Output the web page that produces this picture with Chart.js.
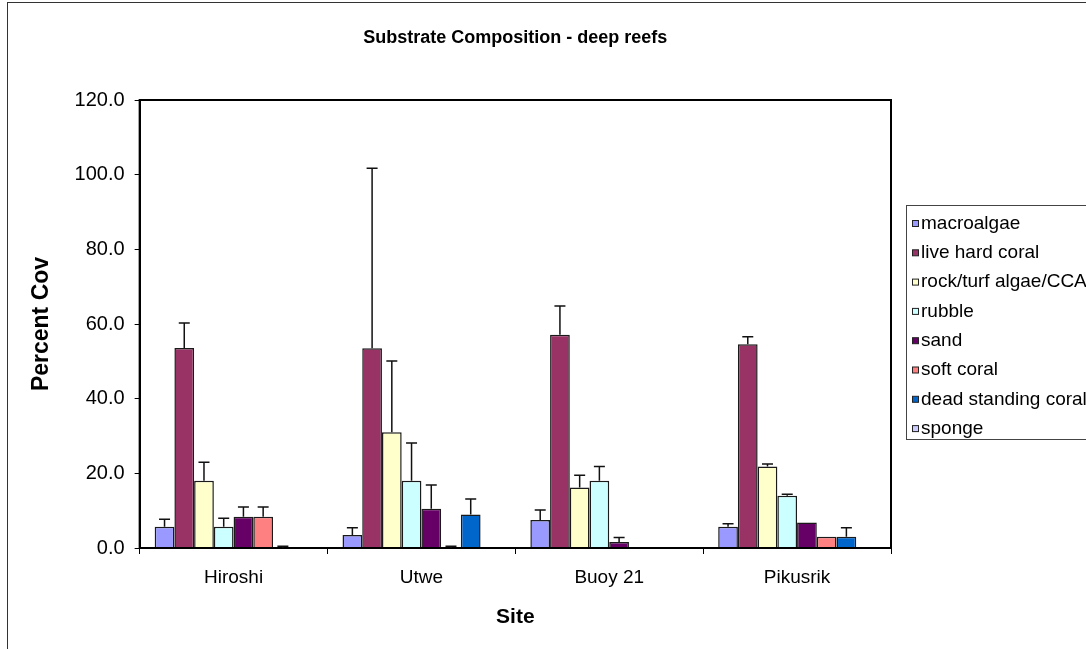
<!DOCTYPE html>
<html>
<head>
<meta charset="utf-8">
<title>Substrate Composition - deep reefs</title>
<script src="https://cdn.jsdelivr.net/npm/chart.js@4.4.1/dist/chart.umd.min.js"></script>
<style>
    html, body { margin: 0; padding: 0; background: #fff; }
    #wrap { position: relative; width: 1086px; height: 649px; }
</style>
</head>
<body>
<div id="wrap"><canvas id="substrateChart" width="1086" height="649"></canvas></div>
<script>
// ==============================================================================
// 1. DATA
// ==============================================================================
const sites = ["Hiroshi", "Utwe", "Buoy 21", "Pikusrik"];
const seriesNames = ["macroalgae", "live hard coral", "rock/turf algae/CCA", "rubble",
                     "sand", "soft coral", "dead standing coral", "sponge"];
const seriesColors = ["#9999FF", "#993366", "#FFFFCC", "#CCFFFF",
                      "#660066", "#FF8080", "#0066CC", "#CCCCFF"];

// mean percent cover per site
const macroalgae        = [5.7, 3.5, 7.5, 5.7];
const liveHardCoral     = [53.6, 53.5, 57.1, 54.6];
const rockTurfAlgae     = [18.0, 31.0, 16.2, 21.8];
const rubble            = [5.7, 18.0, 18.0, 14.0];
const sand              = [8.4, 10.5, 1.6, 6.8];
const softCoral         = [8.4, 0.0, 0.0, 3.0];
const deadStandingCoral = [0.0, 9.0, 0.0, 3.0];
const sponge            = [0.0, 0.0, 0.0, 0.0];

// upper error (same order)
const macroalgaeErr        = [2.0, 1.9, 2.7, 0.8];
const liveHardCoralErr     = [6.7, 48.2, 7.7, 2.0];
const rockTurfAlgaeErr     = [5.0, 19.1, 3.3, 0.7];
const rubbleErr            = [2.3, 10.1, 3.8, 0.4];
const sandErr              = [2.6, 6.4, 1.2, 0.0];
const softCoralErr         = [2.6, 0.5, 0.0, 0.0];
const deadStandingCoralErr = [0.5, 4.1, 0.0, 2.4];
const spongeErr            = [0.0, 0.0, 0.0, 0.0];

const yTicks = [0, 20, 40, 60, 80, 100, 120];

const seriesValues = [macroalgae, liveHardCoral, rockTurfAlgae, rubble,
                      sand, softCoral, deadStandingCoral, sponge];
const seriesErrors = [macroalgaeErr, liveHardCoralErr, rockTurfAlgaeErr, rubbleErr,
                      sandErr, softCoralErr, deadStandingCoralErr, spongeErr];

const FONT = '"Liberation Sans", Arial, sans-serif';

// ==============================================================================
// 2. PLUGINS (frame, error bars, boxed legend)
// ==============================================================================
const framePlugin = {
    id: 'frame',
    beforeDraw(chart) {
        const ctx = chart.ctx;
        ctx.save();
        ctx.fillStyle = '#fff';
        ctx.fillRect(0, 0, chart.width, chart.height);
        ctx.strokeStyle = '#333';
        ctx.lineWidth = 1;
        ctx.strokeRect(7.5, 2.5, 1300, 1000);   // outer chart border runs off the page
        ctx.restore();
    },
    afterDatasetsDraw(chart) {
        const a = chart.chartArea;
        const ctx = chart.ctx;
        ctx.save();
        ctx.strokeStyle = '#000';
        ctx.lineWidth = 2;
        ctx.strokeRect(a.left, a.top, a.right - a.left, a.bottom - a.top);
        ctx.restore();
    }
};

const errorBarsPlugin = {
    id: 'errorBars',
    afterDatasetsDraw(chart) {
        const ctx = chart.ctx;
        const yScale = chart.scales.y;
        ctx.save();
        ctx.strokeStyle = '#111';
        ctx.lineWidth = 1.5;
        chart.data.datasets.forEach((ds, i) => {
            const meta = chart.getDatasetMeta(i);
            meta.data.forEach((bar, j) => {
                const err = ds.errors[j];
                if (!err) return;
                const yTop = yScale.getPixelForValue(ds.data[j] + err);
                ctx.beginPath();
                ctx.moveTo(bar.x, bar.y);
                ctx.lineTo(bar.x, yTop);
                ctx.moveTo(bar.x - 5.5, yTop);
                ctx.lineTo(bar.x + 5.5, yTop);
                ctx.stroke();
            });
        });
        ctx.restore();
    }
};

const boxLegendPlugin = {
    id: 'boxLegend',
    afterDraw(chart) {
        const ctx = chart.ctx;
        const left = 906.5, top = 205.5, rowH = 29.3;
        ctx.save();
        ctx.strokeStyle = '#444';
        ctx.lineWidth = 1;
        ctx.strokeRect(left, top, 300, 234);
        ctx.font = '19px ' + FONT;
        ctx.textBaseline = 'middle';
        chart.data.datasets.forEach((ds, i) => {
            const cy = top + 18 + i * rowH;
            ctx.fillStyle = ds.backgroundColor;
            ctx.fillRect(912.5, cy - 3, 6, 6);
            ctx.strokeStyle = '#222';
            ctx.strokeRect(912.5, cy - 3, 6, 6);
            ctx.fillStyle = '#000';
            ctx.fillText(ds.label, 921, cy);
        });
        ctx.restore();
    }
};

// ==============================================================================
// 3. CHART
// ==============================================================================
const datasets = seriesNames.map((name, i) => ({
    label: name,
    data: seriesValues[i],
    errors: seriesErrors[i],
    backgroundColor: seriesColors[i],
    borderColor: '#1a1a1a',
    borderWidth: 1.5,
    borderSkipped: 'start'
}));

new Chart(document.getElementById('substrateChart').getContext('2d'), {
    type: 'bar',
    data: { labels: sites, datasets: datasets },
    options: {
        responsive: false,
        animation: false,
        layout: { padding: { left: 24, right: 195, top: 27, bottom: 15 } },
        datasets: { bar: { categoryPercentage: 0.84, barPercentage: 1.0 } },
        plugins: {
            legend: { display: false },
            tooltip: { enabled: false },
            title: {
                display: true,
                fullSize: false,
                text: 'Substrate Composition - deep reefs',
                color: '#000',
                font: { family: FONT, size: 18, weight: 'bold' },
                padding: { top: 0, bottom: 51.4 }
            }
        },
        scales: {
            x: {
                grid: { display: true, drawOnChartArea: false, drawTicks: true, tickLength: 6, color: '#000', offset: true },
                border: { display: true, color: '#000', width: 2 },
                ticks: { color: '#000', font: { family: FONT, size: 19 }, padding: 12 },
                title: {
                    display: true, text: 'Site', color: '#000',
                    font: { family: FONT, size: 21, weight: 'bold' },
                    padding: { top: 4, bottom: 4 }
                }
            },
            y: {
                min: 0,
                max: 120,
                afterBuildTicks: axis => { axis.ticks = yTicks.map(v => ({ value: v })); },
                grid: { display: true, drawOnChartArea: false, drawTicks: true, tickLength: 5, color: '#000' },
                border: { display: true, color: '#000', width: 2 },
                ticks: {
                    color: '#000',
                    font: { family: FONT, size: 20 },
                    padding: 10,
                    callback: v => Number(v).toFixed(1)
                },
                title: {
                    display: true, text: 'Percent Cov', color: '#000',
                    font: { family: FONT, size: 23, weight: 'bold' },
                    padding: { top: 4, bottom: 9 }
                }
            }
        }
    },
    plugins: [framePlugin, errorBarsPlugin, boxLegendPlugin]
});
</script>
</body>
</html>
